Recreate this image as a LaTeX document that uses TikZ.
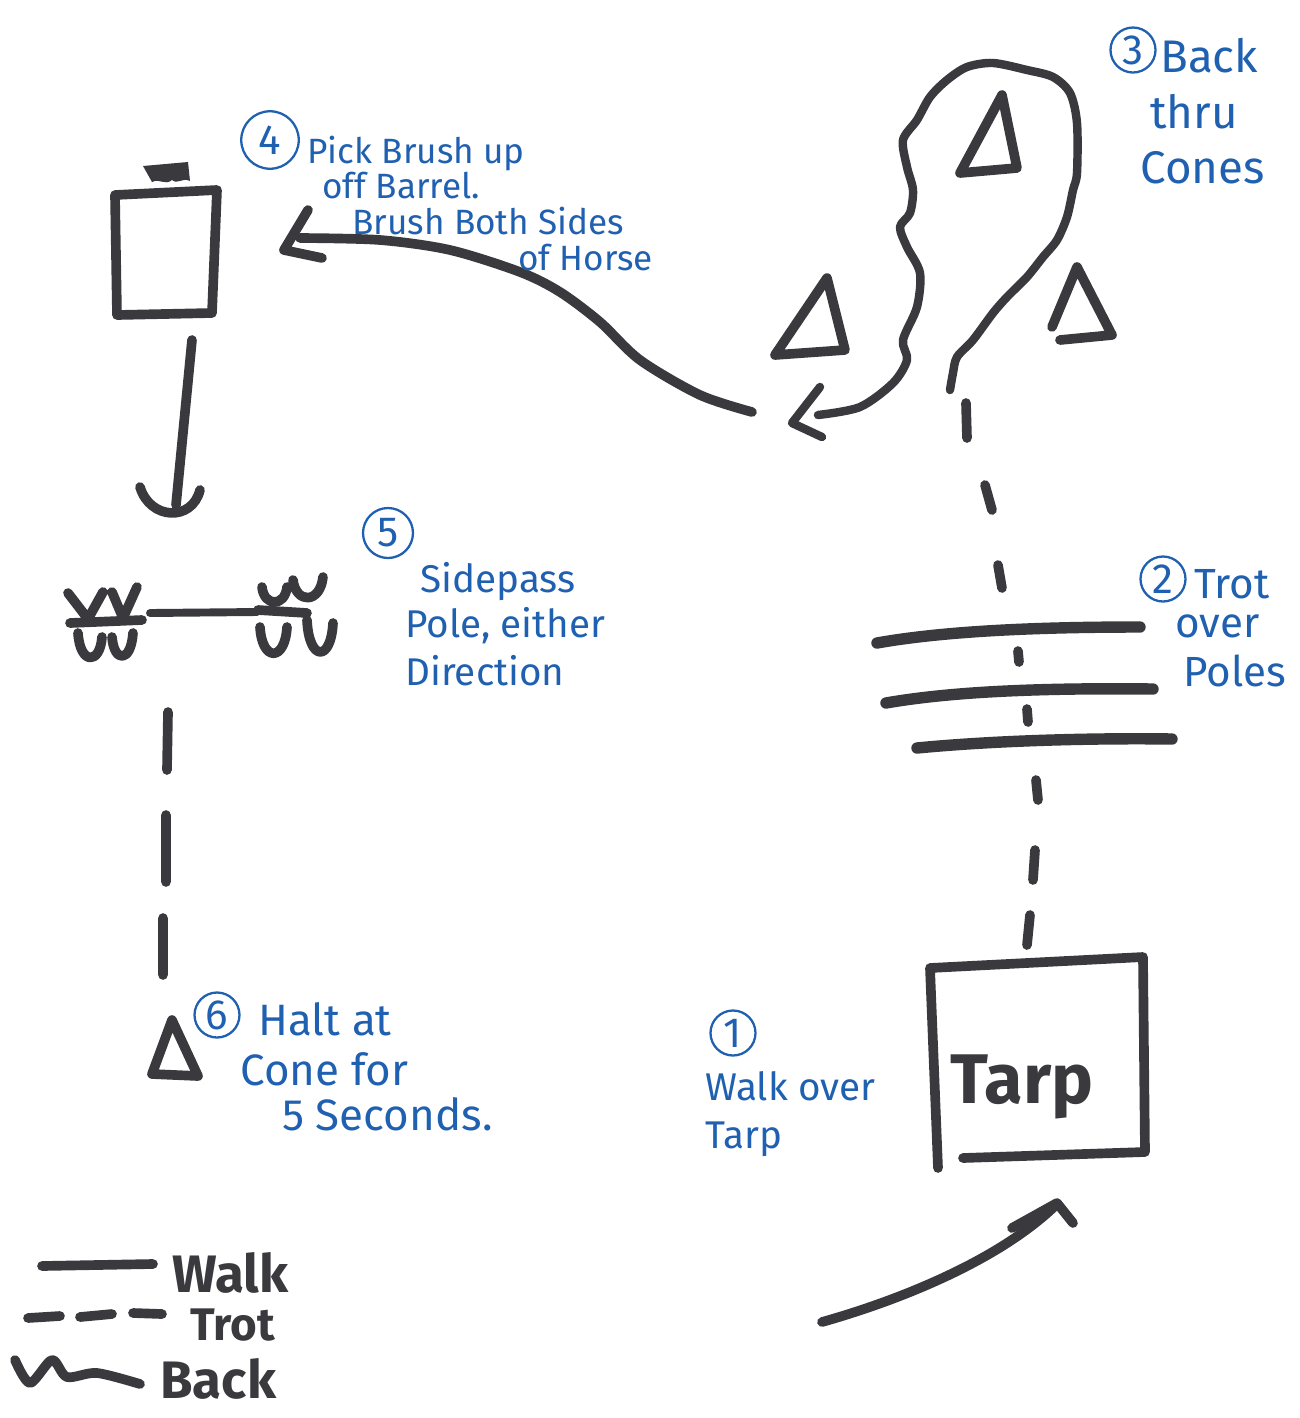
\documentclass[tikz,border=0pt]{standalone}
\usepackage{fontspec}
\setmainfont{Fira Sans}
\usetikzlibrary{calc}

\definecolor{ink}{RGB}{58,58,62}
\definecolor{penblue}{RGB}{32,96,176}

\begin{document}
\begin{tikzpicture}[x=0.02cm,y=-0.02cm,
  marker/.style={draw=ink,line width=5.5pt,line cap=round,line join=round},
  pen/.style={text=penblue,font=\fontsize{22}{22}\selectfont,anchor=base west,inner sep=0pt},
  numring/.style={circle,draw=penblue,line width=1.3pt,text=penblue,inner sep=0pt,
    minimum size=0.9cm,font=\fontsize{24}{24}\selectfont},
  legendtext/.style={text=ink,font=\bfseries\fontsize{30}{30}\selectfont,anchor=base west,inner sep=0pt}]

\useasboundingbox (0,0) rectangle (1300,1418);

\draw[marker] (115,195) -- (217,190) -- (212,313) -- (117,315) -- cycle;
\fill[ink] (143,166) -- (188,162) -- (190,181) .. controls (182,177) and (178,185) .. (172,180)
  .. controls (165,186) and (160,178) .. (152,182) -- cycle;

\draw[marker] (192,340) -- (176,505);
\draw[marker] (140,487) .. controls (150,520) and (192,522) .. (200,490);

\draw[marker,line width=4.5pt] (150,613) -- (257,612);
\draw[marker] (70,623) -- (142,620);
\draw[marker] (68,593) -- (88,619) -- (103,592) (112,592) -- (123,618) -- (137,587);
\draw[marker] (78,633) .. controls (80,665) and (100,665) .. (102,637)
  (112,637) .. controls (114,663) and (131,663) .. (133,633);
\draw[marker] (258,610) -- (307,613);
\draw[marker] (262,587) .. controls (264,607) and (285,607) .. (287,587)
  (293,580) .. controls (296,604) and (320,604) .. (323,577);
\draw[marker] (260,627) .. controls (262,662) and (285,662) .. (287,627)
  (307,620) .. controls (309,662) and (331,662) .. (333,623);

\draw[marker] (168,712) -- (167,770) (166,815) -- (166,882) (163,918) -- (163,975);

\draw[marker] (172,1020) -- (198,1076) -- (152,1074) -- cycle;

\draw[marker] plot[smooth] coordinates {(752,412) (700,395) (640,360) (600,322) (560,292)
  (520,272) (450,250) (380,240) (300,238)};
\draw[marker] (308,210) -- (284,250) -- (322,258);

\draw[marker,line width=4.8pt] plot[smooth,tension=0.5] coordinates {(818,415) (860,407) (893,383)
  (907,360) (903,340) (917,307) (920,273) (907,247) (900,227) (910,213) (913,190) (907,167)
  (903,140) (917,120) (930,97) (947,80) (967,67) (993,63) (1027,70) (1053,77) (1070,93)
  (1077,123) (1077,173) (1073,190) (1067,217) (1057,240) (1043,257) (1027,277) (1007,297)
  (993,313) (973,340) (957,357) (953,373) (950,390)};
\draw[marker,line width=4.8pt] (820,387) -- (792,423) -- (822,437);

\draw[marker] (1002,95) -- (1017,168) -- (960,173) -- cycle;
\draw[marker] (827,278) -- (845,350) -- (775,355) -- cycle;
\draw[marker] (1052,327) -- (1077,267) -- (1112,335) -- (1060,340);

\draw[marker] (966,403) -- (967,438) (985,485) -- (992,510) (998,565) -- (1002,588)
  (1018,651) -- (1019,662) (1027,709) -- (1028,722) (1036,780) -- (1038,800)
  (1035,850) -- (1033,880) (1030,915) -- (1027,945);

\draw[marker,line width=6.5pt] (877,643) .. controls (950,630) and (1050,627) .. (1140,627);
\draw[marker,line width=6.5pt] (886,703) .. controls (960,690) and (1060,688) .. (1153,689);
\draw[marker,line width=6.5pt] (917,748) .. controls (1000,740) and (1100,738) .. (1172,739);

\draw[marker] (938,1168) -- (930,968) -- (1143,957) -- (1145,1152) -- (963,1158);
\node[text=ink,font=\bfseries\fontsize{40}{40}\selectfont,inner sep=0pt] (tarp) at (1022,1087) {Tarp};

\draw[marker] (822,1322) .. controls (900,1300) and (1000,1260) .. (1057,1204);
\draw[marker] (1012,1228) -- (1057,1203) -- (1073,1223);

\draw[marker] (42,1266) -- (153,1264);
\draw[marker] (28,1318) -- (60,1316) (80,1317) -- (112,1314) (133,1313) -- (162,1314);
\draw[marker] plot[smooth] coordinates {(15,1360) (30,1383) (52,1360) (67,1377) (97,1373) (140,1384)};
\node[legendtext] (walk) at (172,1292) {Walk};
\node[legendtext,font=\bfseries\fontsize{26}{26}\selectfont] (trot) at (190,1340) {Trot};
\node[legendtext] (back) at (160,1398) {Back};

\node[numring] (n1) at (733,1033) {1};
\node[pen] (t1a) at (705,1100) {Walk over};
\node[pen] (t1b) at (705,1148) {Tarp};

\node[numring] (n2) at (1163,579) {2};
\node[pen,font=\fontsize{24}{24}\selectfont] (t2a) at (1194,598) {Trot};
\node[pen,font=\fontsize{24}{24}\selectfont] (t2b) at (1175,637) {over};
\node[pen,font=\fontsize{24}{24}\selectfont] (t2c) at (1183,686) {Poles};

\node[numring] (n3) at (1133,50) {3};
\node[pen,font=\fontsize{26}{26}\selectfont] (t3a) at (1160,72) {Back};
\node[pen,font=\fontsize{26}{26}\selectfont] (t3b) at (1150,128) {thru};
\node[pen,font=\fontsize{26}{26}\selectfont] (t3c) at (1140,183) {Cones};

\node[numring,minimum size=1.15cm] (n4) at (270,140) {4};
\node[pen,font=\fontsize{20}{20}\selectfont] (t4a) at (307,163) {Pick Brush up};
\node[pen,font=\fontsize{20}{20}\selectfont] (t4b) at (322,198) {off Barrel.};
\node[pen,font=\fontsize{20}{20}\selectfont] (t4c) at (352,234) {Brush Both Sides};
\node[pen,font=\fontsize{20}{20}\selectfont] (t4d) at (518,270) {of Horse};

\node[numring,minimum size=1cm] (n5) at (388,533) {5};
\node[pen] (t5a) at (420,592) {Sidepass};
\node[pen] (t5b) at (405,637) {Pole, either};
\node[pen] (t5c) at (405,685) {Direction};

\node[numring] (n6) at (217,1015) {6};
\node[pen,font=\fontsize{25}{25}\selectfont] (t6a) at (258,1035) {Halt at};
\node[pen,font=\fontsize{25}{25}\selectfont] (t6b) at (240,1085) {Cone for};
\node[pen,font=\fontsize{25}{25}\selectfont] (t6c) at (282,1130) {5 Seconds.};

\end{tikzpicture}
\end{document}
